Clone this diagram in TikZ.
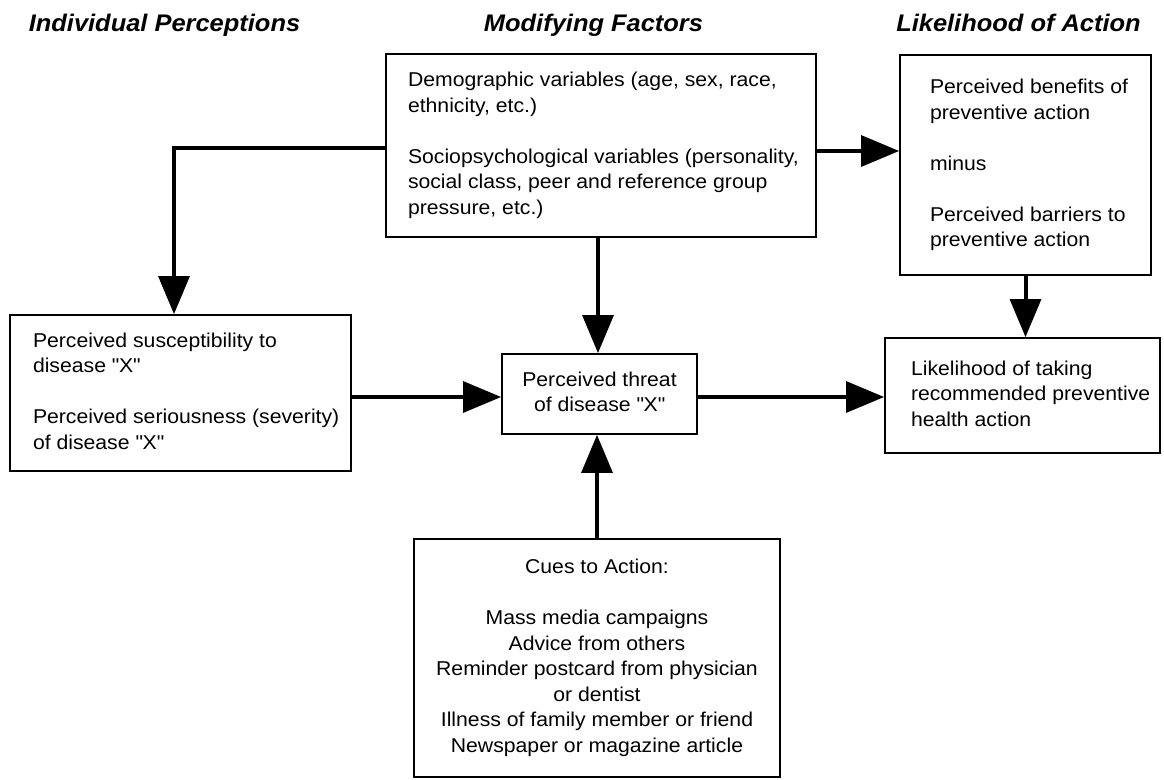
\documentclass[tikz,border=0pt]{standalone}
\usepackage{fontspec}
\setmainfont{Liberation Sans}[FakeStretch=1.06]
\usetikzlibrary{arrows.meta}
\newcommand{\bodyfont}{\fontsize{15pt}{19.1pt}\selectfont}
\newcommand{\titlefont}{\fontsize{18pt}{22pt}\selectfont\bfseries\itshape}
\newcommand{\ltext}[3]{\makebox[#1][l]{\hspace*{#2}\begin{tabular}{@{}l@{}}#3\end{tabular}}}
\newcommand{\ctext}[1]{\begin{tabular}{@{}c@{}}#1\end{tabular}}
\newcommand{\dq}{\textquotedbl}
\begin{document}
\begin{tikzpicture}[x=0.75pt,y=-0.75pt,
  bx/.style={draw=black,line width=1.2pt,inner sep=0pt,font=\bodyfont},
  ttl/.style={anchor=base,inner sep=0pt,font=\titlefont},
  conn/.style={line width=3pt,-{Triangle[length=28.5pt,width=23pt]}}]
\useasboundingbox[fill=white] (0,0) rectangle (1164,780);

% titles
\node[ttl] (t1) at (164.5,32) {Individual Perceptions};
\node[ttl] (t2) at (593.5,32) {Modifying Factors};
\node[ttl] (t3) at (1018.5,32) {Likelihood of Action};

% boxes
\node[bx,minimum width=322.5pt,minimum height=137.25pt] (mod) at (601,145.5)
  {\ltext{322.5pt}{16.5pt}{Demographic variables (age, sex, race,\\ethnicity, etc.)\\ \\Sociopsychological variables (personality,\\social class, peer and reference group\\pressure, etc.)}};
\node[bx,minimum width=188.25pt,minimum height=165pt] (ben) at (1025.5,165)
  {\ltext{188.25pt}{22.5pt}{Perceived benefits of\\preventive action\\ \\minus\\ \\Perceived barriers to\\preventive action}};
\node[bx,minimum width=255.75pt,minimum height=117pt] (sus) at (180.5,393)
  {\ltext{255.75pt}{17.25pt}{Perceived susceptibility to\\disease \dq X\dq\\ \\Perceived seriousness (severity)\\of disease \dq X\dq}};
\node[bx,minimum width=146.25pt,minimum height=60pt] (thr) at (599.5,394)
  {\ctext{Perceived threat\\of disease \dq X\dq}};
\node[bx,minimum width=206.25pt,minimum height=86.25pt] (like) at (1022.5,395.5)
  {\ltext{206.25pt}{19.5pt}{Likelihood of taking\\recommended preventive\\health action}};
\node[bx,minimum width=274.5pt,minimum height=178.5pt] (cues) at (597,658)
  {\ctext{Cues to Action:\\ \\Mass media campaigns\\Advice from others\\Reminder postcard from physician\\or dentist\\Illness of family member or friend\\Newspaper or magazine article}};

% helper coordinates
\coordinate (k1) at (174,148);
\coordinate (k2) at (0,151);
\coordinate (k3) at (598,0);
\coordinate (k4) at (0,397);

% connectors
\draw[conn] (mod.west |- k1) -| (sus.north -| k1);
\draw[conn] (mod.east |- k2) -- (ben.west |- k2);
\draw[conn] (mod.south -| k3) -- (thr.north -| k3);
\draw[conn] (ben.south) -- (ben.south |- like.north);
\draw[conn] (sus.east |- k4) -- (thr.west |- k4);
\draw[conn] (thr.east |- k4) -- (like.west |- k4);
\draw[conn] (cues.north) -- (cues.north |- thr.south);
\end{tikzpicture}
\end{document}
